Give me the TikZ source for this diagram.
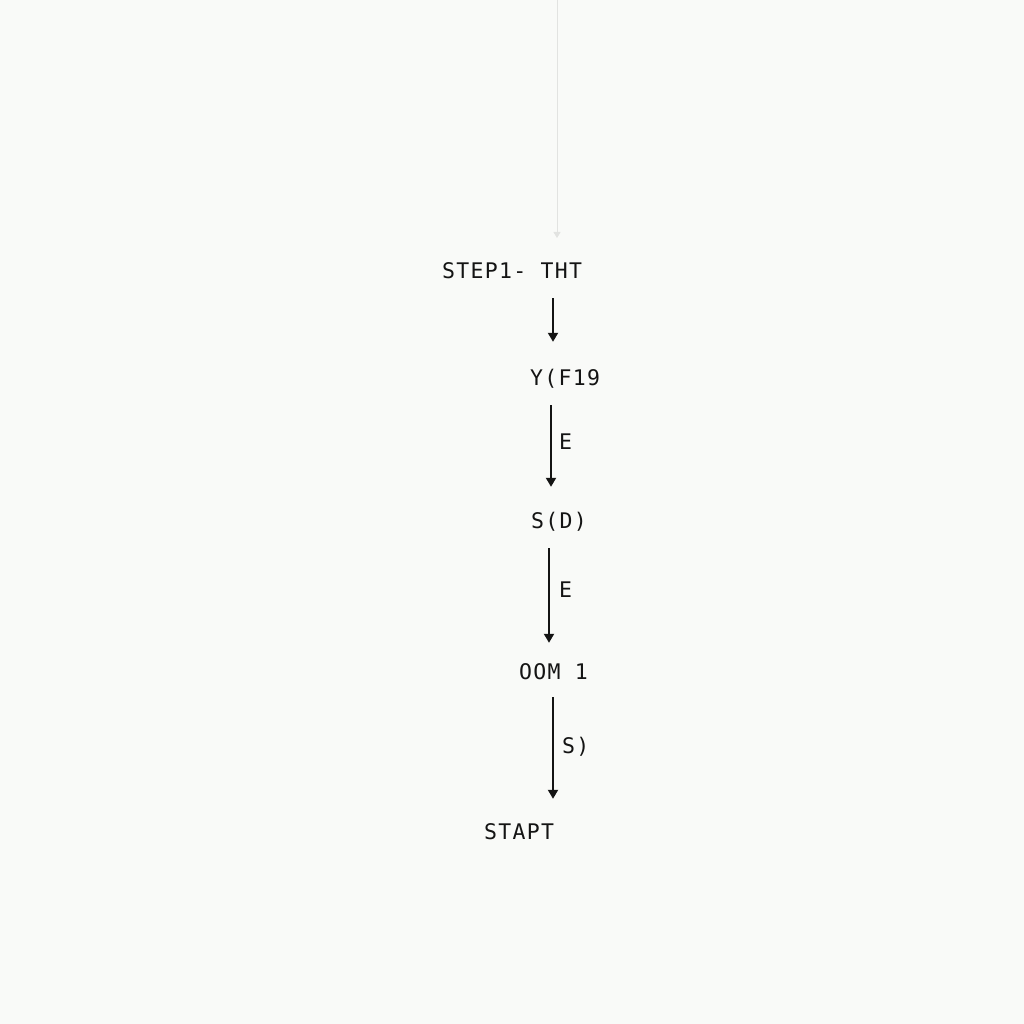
\documentclass[tikz,border=0pt]{standalone}
\usepackage{fontspec}
\usetikzlibrary{arrows.meta}
\newfontfamily\labfont[LetterSpace=6]{DejaVu Sans Mono}
\definecolor{bgcol}{HTML}{F9FAF8}
\definecolor{inkcol}{HTML}{141414}
\definecolor{faintcol}{HTML}{E2E3E1}
\begin{document}
\begin{tikzpicture}[x=1pt,y=-1pt,
  lbl/.style={inner sep=0pt, anchor=base west, text=inkcol, font=\labfont\fontsize{21.5pt}{25pt}\selectfont, text height=15pt, text depth=4pt},
  arr/.style={draw=inkcol, line width=1.9pt, -{Triangle[length=9pt,width=10pt]}},
  faintarr/.style={draw=faintcol, line width=0.8pt, -{Triangle[length=6pt,width=7pt]}}
]
\fill[bgcol] (0,0) rectangle (1024,1024);
\useasboundingbox (0,0) rectangle (1024,1024);

\node[lbl] (n1) at (442,278) {STEP1- THT};
\node[lbl] (n2) at (530,385) {Y(F19};
\node[lbl] (n3) at (531,528) {S(D)};
\node[lbl] (n4) at (519,679) {OOM 1};
\node[lbl] (n5) at (484,839) {STAPT};

\coordinate (top) at (557,0);
\coordinate (c0) at (557,238);
\coordinate (c1) at (553,0);
\coordinate (c2) at (551,0);
\coordinate (c3) at (549,0);
\coordinate (c4) at (553,0);

\draw[faintarr] (top) -- (c0);
\draw[arr, shorten <=16pt, shorten >=28pt] (n1.south -| c1) -- (n2.north -| c1);
\draw[arr, shorten <=16pt, shorten >=26pt] (n2.south -| c2) -- (n3.north -| c2);
\draw[arr, shorten <=16pt, shorten >=21pt] (n3.south -| c3) -- (n4.north -| c3);
\draw[arr, shorten <=14pt, shorten >=25pt] (n4.south -| c4) -- (n5.north -| c4);

\node[lbl] (e1) at (559,449) {E};
\node[lbl] (e2) at (559,597) {E};
\node[lbl] (e3) at (562,753) {S)};
\end{tikzpicture}
\end{document}
